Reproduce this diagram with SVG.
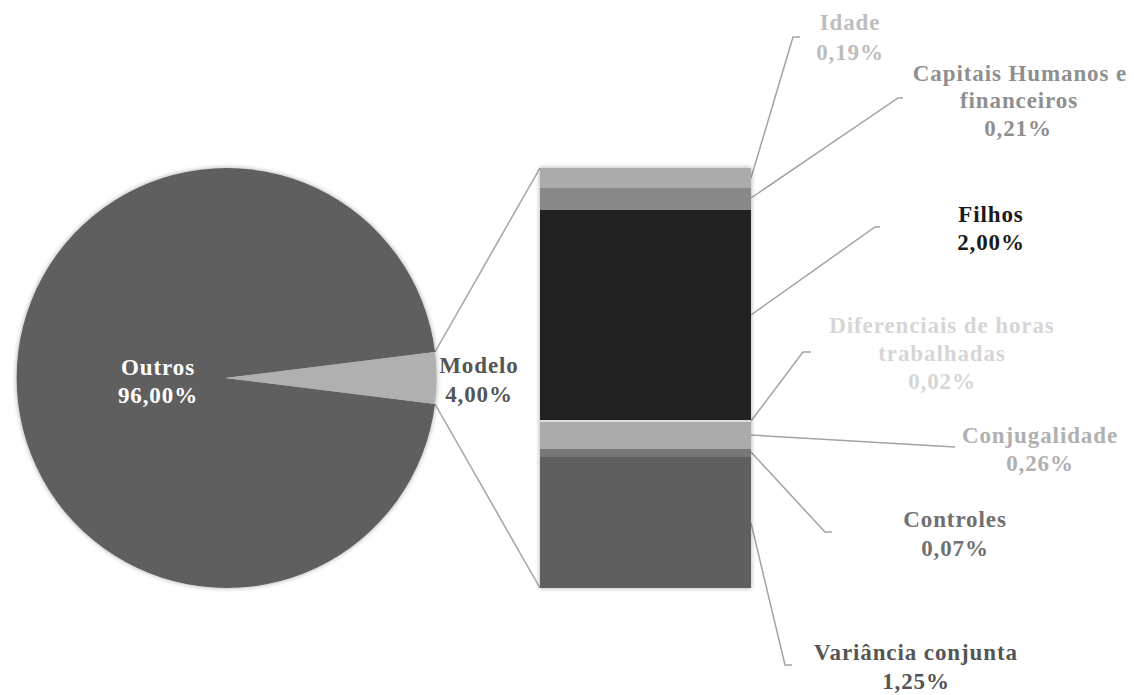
<svg xmlns="http://www.w3.org/2000/svg" width="1134" height="695" viewBox="0 0 1134 695">
<defs>
<style>
text{font-family:"Liberation Serif","Times New Roman",serif;font-weight:bold;font-size:23px;letter-spacing:0.9px;text-anchor:middle}
.ln{fill:none;stroke:#a3a3a3;stroke-width:1.5}
</style>
<filter id="sh" x="-10%" y="-10%" width="120%" height="120%">
<feGaussianBlur in="SourceAlpha" stdDeviation="2.5"/>
<feOffset dx="0" dy="0" result="b"/>
<feComponentTransfer><feFuncA type="linear" slope="0.35"/></feComponentTransfer>
<feMerge><feMergeNode/><feMergeNode in="SourceGraphic"/></feMerge>
</filter>
</defs>
<rect width="1134" height="695" fill="#ffffff"/>
<g id="connectors">
<line class="ln" x1="435" y1="352" x2="540" y2="168"/>
<line class="ln" x1="435" y1="404" x2="540" y2="588"/>
<polyline class="ln" points="751,178 793,37 800,37"/>
<polyline class="ln" points="751,198 898,98 903,98"/>
<polyline class="ln" points="751,315 875,227 880,227"/>
<polyline class="ln" points="751,421 803,352 811,352"/>
<polyline class="ln" points="751,435 955,447"/>
<polyline class="ln" points="751,452 825,532 832,532"/>
<polyline class="ln" points="751,523 785,665 792,665"/>
</g>
<g id="pie" filter="url(#sh)">
<path d="M225,378 L435,352 A210,210 0 1,0 435,404 Z" fill="#5e5e5e"/>
<path d="M225,378 L435,352 A210,210 0 0,1 435,404 Z" fill="#b0b0b0"/>
</g>
<g id="bar" filter="url(#sh)">
<rect x="540" y="168" width="211" height="20" fill="#ababab"/>
<rect x="540" y="188" width="211" height="22" fill="#888888"/>
<rect x="540" y="210" width="211" height="210" fill="#222222"/>
<rect x="540" y="420" width="211" height="2" fill="#dcdcdc"/>
<rect x="540" y="422" width="211" height="27" fill="#ababab"/>
<rect x="540" y="449" width="211" height="8" fill="#777777"/>
<rect x="540" y="457" width="211" height="131" fill="#5e5e5e"/>
</g>
<g id="outros"><text x="158" y="375" fill="#ffffff">Outros</text><text x="158" y="403" fill="#ffffff">96,00%</text></g>
<g id="modelo"><text x="479" y="373" fill="#555555">Modelo</text><text x="479" y="402" fill="#555555">4,00%</text></g>
<g id="idade"><text x="850" y="30" fill="#bdbdbd">Idade</text><text x="850" y="60" fill="#bdbdbd">0,19%</text></g>
<g id="capitais"><text x="1020" y="81" fill="#8f8f8f">Capitais Humanos e</text><text x="1019" y="108" fill="#8f8f8f">financeiros</text><text x="1018" y="136" fill="#8f8f8f">0,21%</text></g>
<g id="filhos"><text x="991" y="222" fill="#1a1a1a">Filhos</text><text x="991" y="250" fill="#1a1a1a">2,00%</text></g>
<g id="diferenciais"><text x="942" y="333" fill="#d6d6d6">Diferenciais de horas</text><text x="942" y="361" fill="#d6d6d6">trabalhadas</text><text x="942" y="389" fill="#d6d6d6">0,02%</text></g>
<g id="conjugalidade"><text x="1040" y="443" fill="#b0b0b0">Conjugalidade</text><text x="1040" y="471" fill="#b0b0b0">0,26%</text></g>
<g id="controles"><text x="955" y="527" fill="#707070">Controles</text><text x="955" y="556" fill="#707070">0,07%</text></g>
<g id="variancia"><text x="916" y="660" fill="#555555">Variância conjunta</text><text x="916" y="689" fill="#555555">1,25%</text></g>
</svg>
